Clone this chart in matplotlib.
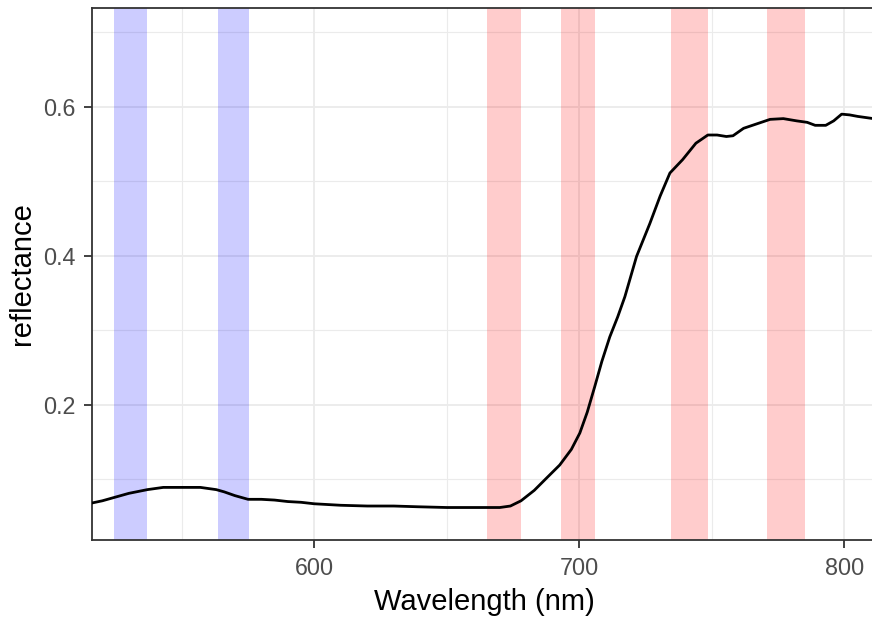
import numpy as np
import matplotlib
matplotlib.use("Agg")
import matplotlib.pyplot as plt

# spectrum
wavelength = [516, 520, 524, 530, 537, 543, 550, 557, 563, 566, 570, 575, 580, 585, 590,
              595, 600, 610, 620, 630, 639, 650, 660, 670, 674, 678, 683, 687.5, 692.6,
              697, 700.2, 703, 705.8, 708.5, 711.5, 714.5, 717.2, 721.6, 726.6, 730.5, 734.2,
              739, 744, 748.5, 752, 755.5, 758, 762, 767, 772, 777, 782, 786, 789, 793, 796,
              799, 802, 805, 811]
reflectance = [0.068, 0.071, 0.075, 0.081, 0.086, 0.089, 0.089, 0.089, 0.086, 0.083, 0.078, 0.073,
               0.073, 0.072, 0.070, 0.069, 0.067, 0.065, 0.064, 0.064, 0.063, 0.062, 0.062, 0.062,
               0.064, 0.071, 0.085, 0.101, 0.119, 0.140, 0.162, 0.190, 0.224, 0.258, 0.291, 0.318,
               0.345, 0.399, 0.443, 0.480, 0.511, 0.529, 0.551, 0.562, 0.562, 0.560, 0.561, 0.571,
               0.577, 0.583, 0.584, 0.581, 0.579, 0.575, 0.575, 0.581, 0.590, 0.589, 0.587, 0.584]

blue_bands = [(524.5, 537), (563.5, 575.5)]
red_bands = [(665, 678), (693, 706), (734.5, 748.5), (771, 785)]

plt.rcParams["font.family"] = ["Liberation Sans", "DejaVu Sans"]

fig = plt.figure(figsize=(8.72, 6.18), dpi=100)
ax = fig.add_axes([92 / 872, 78 / 618, 785 / 872, 532 / 618])

for lo, hi in blue_bands:
    ax.axvspan(lo, hi, color="blue", alpha=0.2, lw=0, zorder=2)
for lo, hi in red_bands:
    ax.axvspan(lo, hi, color="red", alpha=0.2, lw=0, zorder=2)

ax.plot(wavelength, reflectance, color="black", lw=2, zorder=3)

x0 = 600 - (314.3 - 92) / 2.65
x1 = x0 + 785 / 2.65
ax.set_xlim(x0, x1)
ax.set_ylim(0.6 - (540 - 106.7) / 745, 0.6 + (106.7 - 8) / 745)
ax.set_xticks([600, 700, 800])
ax.set_xticks([550, 650, 750], minor=True)
ax.set_yticks([0.2, 0.4, 0.6])
ax.set_yticklabels(["0.2", "0.4", "0.6"])
ax.set_yticks([0.1, 0.3, 0.5, 0.7], minor=True)

ax.grid(which="major", color="#EBEBEB", lw=1.3, zorder=1)
ax.grid(which="minor", color="#EBEBEB", lw=0.8, zorder=1)
ax.set_axisbelow(True)

for s in ax.spines.values():
    s.set_color("#333333")
    s.set_linewidth(1.3)
ax.tick_params(which="major", length=6, width=1.3, color="#333333", labelcolor="#4D4D4D",
               labelsize=16.8)
ax.tick_params(axis="x", which="major", pad=6)
ax.tick_params(axis="y", which="major", pad=6)
ax.tick_params(which="minor", length=0)

ax.set_xlabel("Wavelength (nm)", fontsize=21, color="black", labelpad=6)
ax.set_ylabel("reflectance", fontsize=21, color="black", labelpad=5)

fig.savefig("out.png", dpi=100)
